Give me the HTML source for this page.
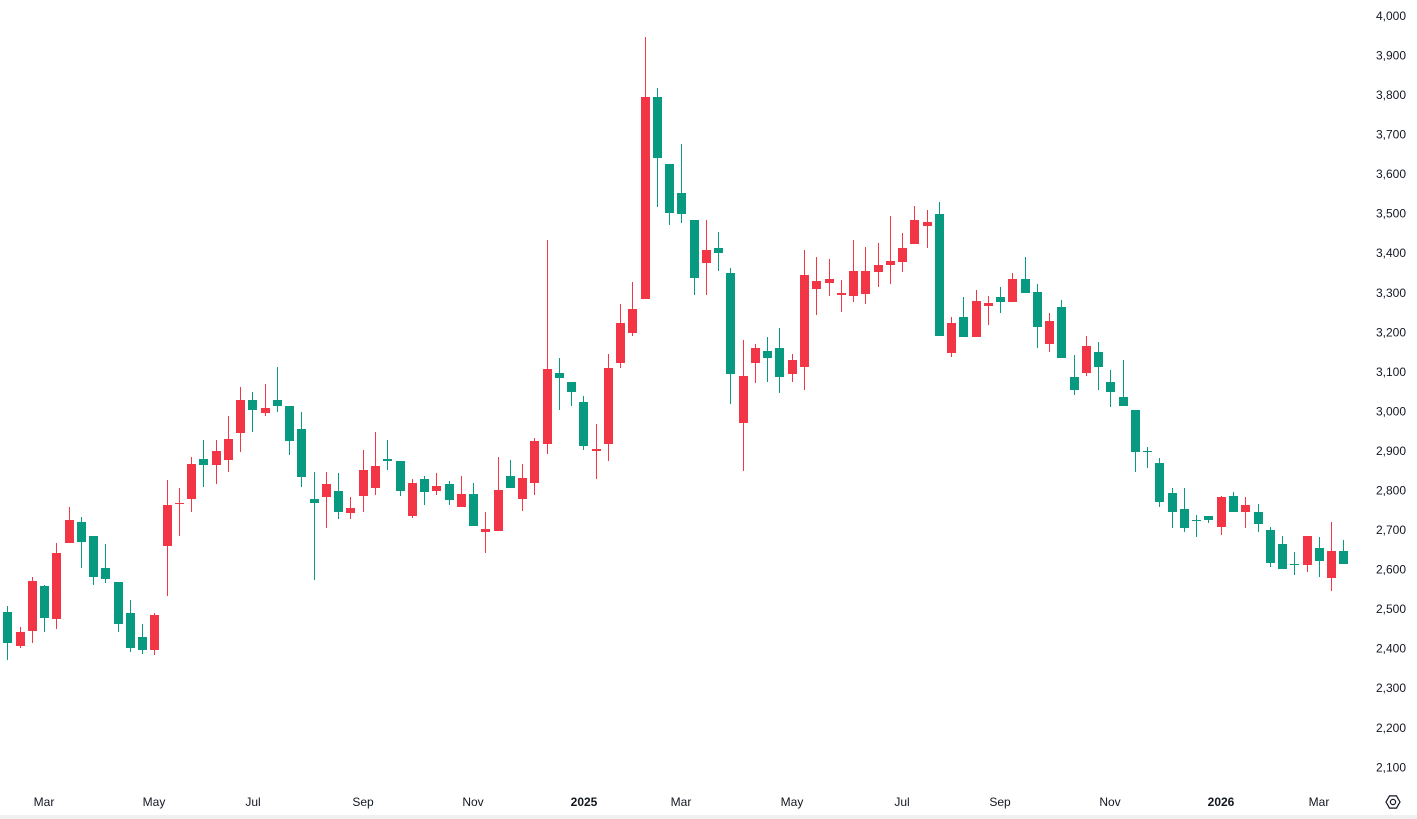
<!DOCTYPE html>
<html>
<head>
<meta charset="utf-8">
<style>
  html, body { margin:0; padding:0; background:#ffffff; }
  body { width:1417px; height:819px; overflow:hidden; position:relative; }
  svg { position:absolute; left:0; top:0; display:block; }
  text { font-family:"Liberation Sans", Arial, sans-serif; font-size:12px; fill:#131722; }
</style>
</head>
<body>
<svg id="chart" width="1417" height="819" viewBox="0 0 1417 819" xmlns="http://www.w3.org/2000/svg">
  <rect x="0" y="0" width="1417" height="819" fill="#ffffff"/>
  <rect x="0" y="815" width="1417" height="4" fill="#f0f0f0"/>
  <g id="candles"></g>
  <!-- Y axis labels -->
  <g text-anchor="end">
    <text x="1406" y="20">4,000</text>
    <text x="1406" y="59.5">3,900</text>
    <text x="1406" y="99">3,800</text>
    <text x="1406" y="138.6">3,700</text>
    <text x="1406" y="178.1">3,600</text>
    <text x="1406" y="217.7">3,500</text>
    <text x="1406" y="257.2">3,400</text>
    <text x="1406" y="296.8">3,300</text>
    <text x="1406" y="336.3">3,200</text>
    <text x="1406" y="375.9">3,100</text>
    <text x="1406" y="415.4">3,000</text>
    <text x="1406" y="455">2,900</text>
    <text x="1406" y="494.5">2,800</text>
    <text x="1406" y="534">2,700</text>
    <text x="1406" y="573.6">2,600</text>
    <text x="1406" y="613.1">2,500</text>
    <text x="1406" y="652.7">2,400</text>
    <text x="1406" y="692.2">2,300</text>
    <text x="1406" y="731.8">2,200</text>
    <text x="1406" y="771.3">2,100</text>
  </g>
  <!-- X axis labels -->
  <g text-anchor="middle">
    <text x="44" y="806">Mar</text>
    <text x="154" y="806">May</text>
    <text x="253" y="806">Jul</text>
    <text x="363" y="806">Sep</text>
    <text x="473" y="806">Nov</text>
    <text x="584" y="806" font-weight="bold">2025</text>
    <text x="681" y="806">Mar</text>
    <text x="792" y="806">May</text>
    <text x="902" y="806">Jul</text>
    <text x="1000" y="806">Sep</text>
    <text x="1110" y="806">Nov</text>
    <text x="1221" y="806" font-weight="bold">2026</text>
    <text x="1319" y="806">Mar</text>
  </g>
  <!-- gear icon -->
  <g transform="translate(1393,802)" fill="none" stroke="#131722" stroke-width="1.2">
    <polygon points="-3.5,-6.1 3.5,-6.1 7,0 3.5,6.1 -3.5,6.1 -7,0"/>
    <circle cx="0" cy="0" r="2.6"/>
  </g>
</svg>
<script>
(function(){
  // [color, bodyTop, bodyBottom, wickTop, wickBottom]
  var d = [
    ['g',612,643,606,660],['r',632,646,627,648],['r',581,631,577,643],['g',586,618,585,632],
    ['r',553,619,543,629],['r',520,543,507,543],['g',522,542,517,568],['g',536,577,536,585],
    ['g',568,579,544,583],['g',582,624,582,632],['g',613,648,600,652],['g',637,650,624,654],
    ['r',615,650,613,655],['r',505,546,480,596],['r',503,504,488,536],['r',464,499,457,512],
    ['g',459,465,440,487],['r',451,465,440,484],['r',439,460,416,472],['r',400,433,387,452],
    ['g',400,410,392,432],['r',408,413,384,416],['g',400,406,367,412],['g',406,441,406,455],
    ['g',429,477,412,487],['g',499,503,472,580],['r',484,497,472,528],['g',491,512,473,519],
    ['r',508,513,497,519],['r',470,496,450,512],['r',466,488,432,495],['g',459,461,440,470],
    ['g',461,491,461,496],['r',483,516,479,518],['g',479,492,476,505],['r',486,491,473,495],
    ['g',484,500,481,505],['r',494,507,476,507],['g',494,526,483,526],['r',529,532,512,553],
    ['r',490,531,457,531],['g',476,488,460,488],['r',478,499,464,511],['r',441,483,438,495],
    ['r',369,444,240,454],['g',373,378,358,410],['g',382,392,382,406],['g',402,446,396,450],
    ['r',449,451,424,479],['r',368,444,354,461],['r',323,363,304,368],['r',309,333,282,336],
    ['r',97,299,37,299],['g',97,158,88,207],['g',164,213,164,225],['g',193,214,144,223],
    ['g',220,278,220,295],['r',250,263,220,295],['g',248,253,232,271],['g',273,374,268,404],
    ['r',376,423,340,471],['r',348,363,344,383],['g',351,358,337,382],['g',348,377,328,393],
    ['r',360,374,354,382],['r',275,367,250,390],['r',281,289,257,315],['r',279,283,259,296],
    ['r',293,295,280,312],['r',271,296,240,302],['r',271,294,247,304],['r',265,272,243,287],
    ['r',261,265,216,284],['r',248,262,233,272],['r',220,244,206,244],['r',222,226,210,248],
    ['g',214,336,202,336],['r',323,353,317,357],['g',317,337,297,337],['r',301,337,290,337],
    ['r',303,306,296,325],['g',297,302,287,313],['r',279,302,273,302],['g',279,293,257,293],
    ['g',292,327,284,348],['r',321,344,313,352],['g',307,358,300,358],['g',377,390,355,395],
    ['r',346,373,336,376],['g',352,367,342,390],['g',382,392,370,407],['g',397,406,360,406],
    ['g',410,452,410,472],['g',451,452,447,468],['g',463,502,458,507],['g',493,512,488,528],
    ['g',509,528,488,532],['g',520,521,515,537],['g',516,520,516,523],['r',497,527,496,535],
    ['g',496,512,492,512],['r',505,512,497,528],['g',512,524,504,532],['g',530,563,527,567],
    ['g',544,569,536,569],['g',564,565,552,575],['r',536,565,536,572],['g',548,561,537,577],
    ['r',551,578,522,591],['g',551,564,540,564]
  ];
  var NS = 'http://www.w3.org/2000/svg';
  var g = document.getElementById('candles');
  for (var i = 0; i < d.length; i++) {
    var c = d[i];
    var col = c[0] === 'g' ? '#089981' : '#F23645';
    var cx = Math.round(7.3 + i * 12.257);
    var w = document.createElementNS(NS, 'rect');
    w.setAttribute('x', cx);
    w.setAttribute('y', c[3]);
    w.setAttribute('width', 1);
    w.setAttribute('height', Math.max(1, c[4] - c[3]));
    w.setAttribute('fill', col);
    g.appendChild(w);
    var b = document.createElementNS(NS, 'rect');
    b.setAttribute('x', cx - 4);
    b.setAttribute('y', c[1]);
    b.setAttribute('width', 9);
    b.setAttribute('height', Math.max(1, c[2] - c[1]));
    b.setAttribute('fill', col);
    g.appendChild(b);
  }
})();
</script>
</body>
</html>
